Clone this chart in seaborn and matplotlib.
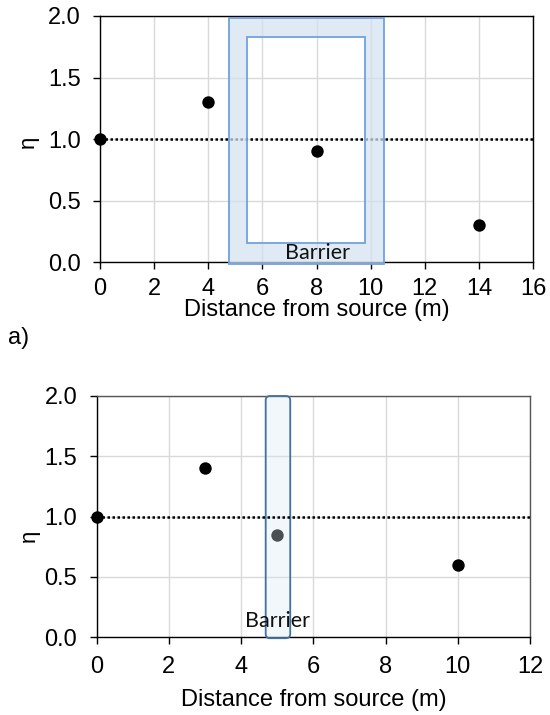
import matplotlib
matplotlib.use("Agg")
import matplotlib.pyplot as plt
import seaborn as sns
import pandas as pd
from matplotlib.path import Path
from matplotlib.patches import PathPatch, FancyBboxPatch

# ---- data ----
dist_a = [0, 4, 8, 14]
eta_a = [1.0, 1.3, 0.9, 0.3]
dist_b = [0, 3, 5, 10]
eta_b = [1.0, 1.4, 0.85, 0.6]
ref_level = 1.0
xlim_a = [0, 16]
xlim_b = [0, 12]
ylim = [0, 2.0]
xticks_a = [0, 2, 4, 6, 8, 10, 12, 14, 16]
xticks_b = [0, 2, 4, 6, 8, 10, 12]
yticks = [0.0, 0.5, 1.0, 1.5, 2.0]
# barrier a: outer and inner frame (x0, x1, y0, y1)
barrier_a_outer = [4.75, 10.5, -0.015, 1.985]
barrier_a_inner = [5.45, 9.8, 0.155, 1.83]
# barrier b: thin wall (x0, x1, y0, y1)
barrier_b = [4.68, 5.36, -0.01, 2.0]
barrier_label = "Barrier"
barrier_label_a = [8.05, -0.005]
barrier_label_b = [5.0, 0.05]
xlabel = "Distance from source (m)"
ylabel = "η"
panel_label = "a)"

sns.set_theme(style="white")
plt.rcParams['font.family'] = ['Liberation Sans', 'DejaVu Sans']
plt.rcParams['axes.unicode_minus'] = False

fig = plt.figure(figsize=(5.5, 7.15), dpi=100)
ax1 = fig.add_axes([100 / 550, 1 - 262 / 715, 433 / 550, 246 / 715])
ax2 = fig.add_axes([96.7 / 550, 1 - 637 / 715, 433.3 / 550, 241 / 715])

df_a = pd.DataFrame({"d": dist_a, "eta": eta_a})
df_b = pd.DataFrame({"d": dist_b, "eta": eta_b})


def style_axes(ax, xlim, xticks, tickpad_x, spine_tr):
    ax.set_xlim(*xlim)
    ax.set_ylim(*ylim)
    ax.set_xticks(xticks)
    ax.set_yticks(yticks)
    ax.set_yticklabels([f"{v:.1f}" for v in yticks])
    ax.grid(True, color="#d9d9d9", linewidth=1.0)
    ax.set_axisbelow(True)
    for s in ["left", "bottom"]:
        ax.spines[s].set_color("black")
        ax.spines[s].set_linewidth(1.0)
    for s in ["top", "right"]:
        ax.spines[s].set_color(spine_tr)
        ax.spines[s].set_linewidth(1.0)
    ax.tick_params(axis="y", left=True, direction="out", length=5, width=1.0,
                   color="black", labelsize=17, pad=9, labelcolor="black")
    ax.tick_params(axis="x", bottom=True, direction="out", length=5, width=1.0,
                   color="black", labelsize=17, pad=tickpad_x, labelcolor="black")


# ---- panel a ----
style_axes(ax1, xlim_a, xticks_a, 6.5, "black")
ax1.axhline(ref_level, color="black", linestyle=(0, (1, 1)), linewidth=1.8, zorder=2)
x0, x1, y0, y1 = barrier_a_outer
u0, u1, v0, v1 = barrier_a_inner
verts = [(x0, y0), (x1, y0), (x1, y1), (x0, y1), (x0, y0),
         (u0, v0), (u0, v1), (u1, v1), (u1, v0), (u0, v0)]
codes = [Path.MOVETO, Path.LINETO, Path.LINETO, Path.LINETO, Path.CLOSEPOLY] * 2
ring = PathPatch(Path(verts, codes), facecolor="#d4e2f2", alpha=0.72,
                 edgecolor="none", zorder=3, clip_on=False)
ax1.add_patch(ring)
outer_edge = PathPatch(Path(verts[:5], codes[:5]), facecolor="none",
                       edgecolor="#6fa3dc", linewidth=1.3, zorder=3.1, clip_on=False)
inner_edge = PathPatch(Path(verts[5:], codes[5:]), facecolor="none",
                       edgecolor="#6fa3dc", linewidth=1.3, zorder=3.1)
ax1.add_patch(outer_edge)
ax1.add_patch(inner_edge)
sns.scatterplot(data=df_a, x="d", y="eta", ax=ax1, color="black", s=80,
                edgecolor="black", linewidth=0, zorder=5, clip_on=False, legend=False)
ax1.text(barrier_label_a[0], barrier_label_a[1], barrier_label, ha="center", va="bottom",
         fontsize=15.5, family=["Lato", "DejaVu Sans"], color="#111111", zorder=6)
ax1.set_xlabel(xlabel, fontsize=17, labelpad=-1, color="black")
ax1.set_ylabel(ylabel, fontsize=16, color="black")
ax1.yaxis.set_label_coords(-0.14, 0.49)

# ---- panel b ----
style_axes(ax2, xlim_b, xticks_b, 8.5, "#555555")
sns.scatterplot(data=df_b, x="d", y="eta", ax=ax2, color="black", s=80,
                edgecolor="black", linewidth=0, zorder=3, clip_on=False, legend=False)
bx0, bx1, by0, by1 = barrier_b
wall = FancyBboxPatch((bx0, by0), bx1 - bx0, by1 - by0,
                      boxstyle="round,pad=0,rounding_size=0.12", mutation_aspect=0.3,
                      facecolor=(0.86, 0.91, 0.96, 0.34), edgecolor="#41719c",
                      linewidth=1.3, zorder=4, clip_on=False)
ax2.add_patch(wall)
ax2.axhline(ref_level, color="black", linestyle=(0, (1, 1)), linewidth=1.8, zorder=5)
ax2.text(barrier_label_b[0], barrier_label_b[1], barrier_label, ha="center", va="bottom",
         fontsize=15.5, family=["Lato", "DejaVu Sans"], color="#111111", zorder=6)
ax2.set_xlabel(xlabel, fontsize=17, labelpad=8, color="black")
ax2.set_ylabel(ylabel, fontsize=16, color="black")
ax2.yaxis.set_label_coords(-0.13, 0.42)

fig.text(8 / 550, 1 - 338 / 715, panel_label, fontsize=17, ha="left", va="center", color="black")

fig.savefig("out.png", dpi=100)
